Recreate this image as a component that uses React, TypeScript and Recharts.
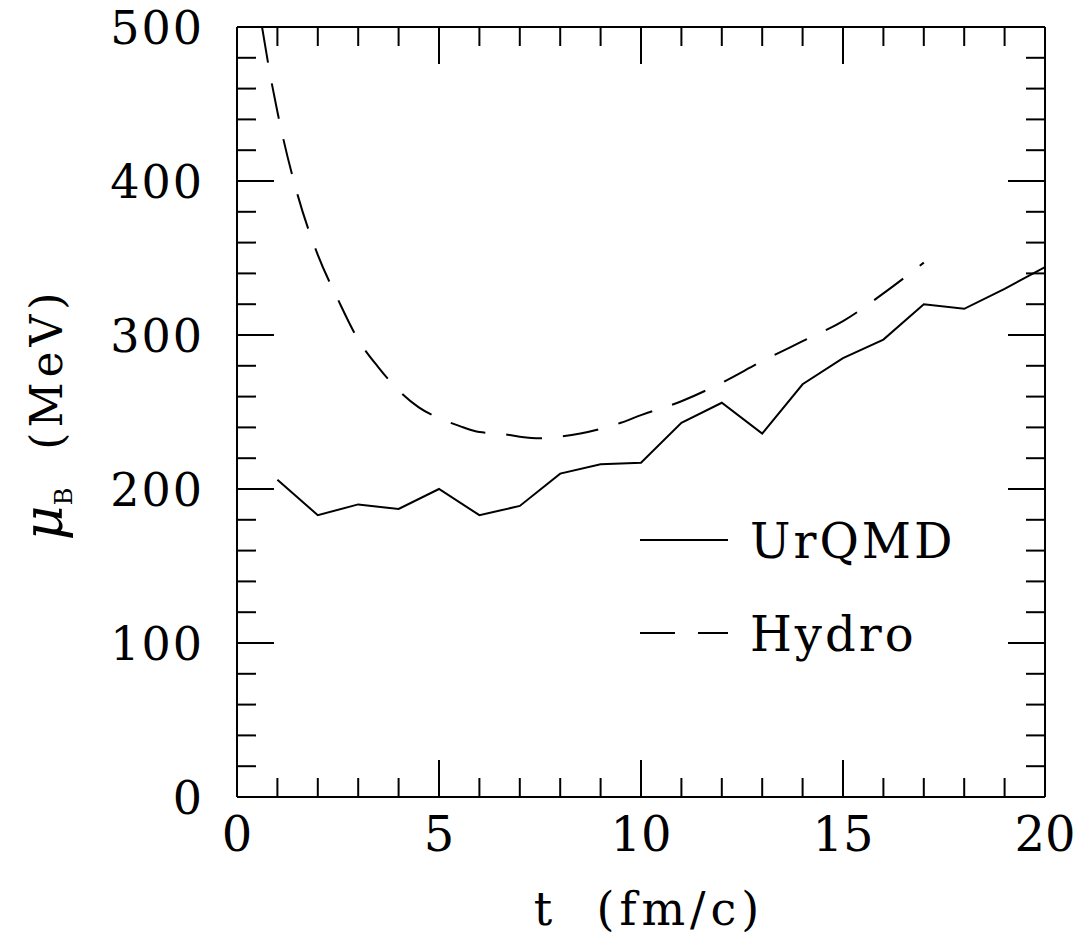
import { LineChart, Line, XAxis, YAxis, Legend } from 'recharts';

// UrQMD: one value per fm/c
const urqmdT = [1, 2, 3, 4, 5, 6, 7, 8, 9, 10, 11, 12, 13, 14, 15, 16, 17, 18, 19, 20];
const urqmdMu = [206, 183, 190, 187, 200, 183, 189, 210, 216, 217, 243, 256, 236, 268, 285, 297, 320, 317, 330, 344];

// Hydro: smooth curve
const hydroT = [0.62, 0.8, 1, 1.5, 2, 2.5, 3, 3.5, 4, 4.5, 5, 5.5, 6, 6.5, 7, 7.5, 8, 8.5, 9, 9.5, 10, 11, 12, 13, 14, 15, 16, 17];
const hydroMu = [500, 472, 445, 391, 352, 323, 297, 279, 264, 253, 246, 241, 237, 236, 234, 233, 234, 236, 239, 243, 248, 257, 269, 283, 296, 309, 327, 347];

const xTicks = [0, 1, 2, 3, 4, 5, 6, 7, 8, 9, 10, 11, 12, 13, 14, 15, 16, 17, 18, 19, 20];
const xTickLabels = ['0', '5', '10', '15', '20'];
const yTicks = [0, 20, 40, 60, 80, 100, 120, 140, 160, 180, 200, 220, 240, 260, 280, 300, 320, 340, 360, 380, 400, 420, 440, 460, 480, 500];
const yTickLabels = ['0', '100', '200', '300', '400', '500'];
const legendOrder = ['UrQMD', 'Hydro'];

const urqmdData = urqmdT.map((t, i) => ({ t, mu: urqmdMu[i] }));
const hydroData = hydroT.map((t, i) => ({ t, mu: hydroMu[i] }));

const FONT = '"DejaVu Serif", serif';
const MAJOR = 37;
const MINOR = 19;
const HYDRO_DASH = '36 21';

const isMajor = (v: number, labels: string[]) => labels.includes(String(v));

const BottomTick = ({ x, y, payload }: any) => {
  const major = isMajor(payload.value, xTickLabels);
  return (
    <g>
      <line x1={x} x2={x} y1={y} y2={y - (major ? MAJOR : MINOR)} stroke="#000" strokeWidth={2} />
      {major && (
        <text x={x} y={y + 54} textAnchor="middle" fontFamily={FONT} fontSize={48} fill="#000">
          {payload.value}
        </text>
      )}
    </g>
  );
};

const TopTick = ({ x, y, payload }: any) => {
  const major = isMajor(payload.value, xTickLabels);
  return <line x1={x} x2={x} y1={y} y2={y + (major ? MAJOR : MINOR)} stroke="#000" strokeWidth={2} />;
};

const LeftTick = ({ x, y, payload }: any) => {
  const major = isMajor(payload.value, yTickLabels);
  return (
    <g>
      <line x1={x} x2={x + (major ? MAJOR : MINOR)} y1={y} y2={y} stroke="#000" strokeWidth={2} />
      {major && (
        <text
          x={x - 33}
          y={y + 17}
          textAnchor="end"
          fontFamily={FONT}
          fontSize={46}
          letterSpacing={2}
          fill="#000"
        >
          {payload.value}
        </text>
      )}
    </g>
  );
};

const RightTick = ({ x, y, payload }: any) => {
  const major = isMajor(payload.value, yTickLabels);
  return <line x1={x} x2={x - (major ? MAJOR : MINOR)} y1={y} y2={y} stroke="#000" strokeWidth={2} />;
};

const YTitle = () => (
  <text
    x={0}
    y={0}
    transform="translate(62, 414) rotate(-90)"
    textAnchor="middle"
    fontFamily={FONT}
    fontSize={44}
    fill="#000"
    style={{ whiteSpace: 'pre' }}
  >
    <tspan fontStyle="italic" fontSize={54}>μ</tspan>
    <tspan fontSize={24} dy={10}>B</tspan>
    <tspan dy={-10} letterSpacing={5}>{'  (MeV)'}</tspan>
  </text>
);

const XTitle = () => (
  <text
    x={649}
    y={925}
    textAnchor="middle"
    fontFamily={FONT}
    fontSize={46}
    letterSpacing={5}
    fill="#000"
    style={{ whiteSpace: 'pre' }}
  >
    {'t  (fm/c)'}
  </text>
);

const LegendBox = ({ payload }: any) => {
  const items = [...(payload || [])].sort(
    (a: any, b: any) => legendOrder.indexOf(a.value) - legendOrder.indexOf(b.value)
  );
  return (
    <svg width={400} height={180}>
      {items.map((entry: any, i: number) => {
        const y = 30 + i * 93;
        const dashed = entry.value === 'Hydro';
        return (
          <g key={entry.value}>
            <line
              x1={10}
              x2={98}
              y1={y}
              y2={y}
              stroke="#000"
              strokeWidth={2}
              strokeDasharray={dashed ? '35 23' : undefined}
            />
            <text x={120} y={y + 18} fontFamily={FONT} fontSize={48} letterSpacing={3} fill="#000">
              {entry.value}
            </text>
          </g>
        );
      })}
    </svg>
  );
};

export default function App() {
  return (
    <div style={{ position: 'absolute', left: 0, top: 0, width: 1081, height: 945, background: '#fff' }}>
      <LineChart width={1081} height={945} margin={{ top: 0, right: 0, bottom: 0, left: 0 }}>
        <XAxis
          xAxisId="bottom"
          orientation="bottom"
          type="number"
          dataKey="t"
          domain={[0, 20]}
          allowDataOverflow
          ticks={xTicks}
          interval={0}
          height={148}
          tickSize={0}
          tickMargin={0}
          tickLine={false}
          axisLine={{ stroke: '#000', strokeWidth: 2 }}
          tick={<BottomTick />}
          label={<XTitle />}
        />
        <XAxis
          xAxisId="top"
          orientation="top"
          type="number"
          dataKey="t"
          domain={[0, 20]}
          allowDataOverflow
          ticks={xTicks}
          interval={0}
          height={27}
          tickSize={0}
          tickMargin={0}
          tickLine={false}
          axisLine={{ stroke: '#000', strokeWidth: 2 }}
          tick={<TopTick />}
        />
        <YAxis
          yAxisId="left"
          orientation="left"
          type="number"
          domain={[0, 500]}
          allowDataOverflow
          ticks={yTicks}
          interval={0}
          width={237}
          tickSize={0}
          tickMargin={0}
          tickLine={false}
          axisLine={{ stroke: '#000', strokeWidth: 2 }}
          tick={<LeftTick />}
          label={<YTitle />}
        />
        <YAxis
          yAxisId="right"
          orientation="right"
          type="number"
          domain={[0, 500]}
          allowDataOverflow
          ticks={yTicks}
          interval={0}
          width={36}
          tickSize={0}
          tickMargin={0}
          tickLine={false}
          axisLine={{ stroke: '#000', strokeWidth: 2 }}
          tick={<RightTick />}
        />
        <Legend
          layout="vertical"
          align="center"
          verticalAlign="middle"
          content={<LegendBox />}
          wrapperStyle={{ left: 630, top: 510, width: 400, height: 180 }}
        />
        <Line
          xAxisId="bottom"
          yAxisId="left"
          data={urqmdData}
          dataKey="mu"
          name="UrQMD"
          type="linear"
          stroke="#000"
          strokeWidth={2}
          dot={false}
          isAnimationActive={false}
        />
        <Line
          xAxisId="bottom"
          yAxisId="left"
          data={hydroData}
          dataKey="mu"
          name="Hydro"
          type="monotone"
          stroke="#000"
          strokeWidth={2}
          strokeDasharray={HYDRO_DASH}
          dot={false}
          isAnimationActive={false}
        />
      </LineChart>
    </div>
  );
}
